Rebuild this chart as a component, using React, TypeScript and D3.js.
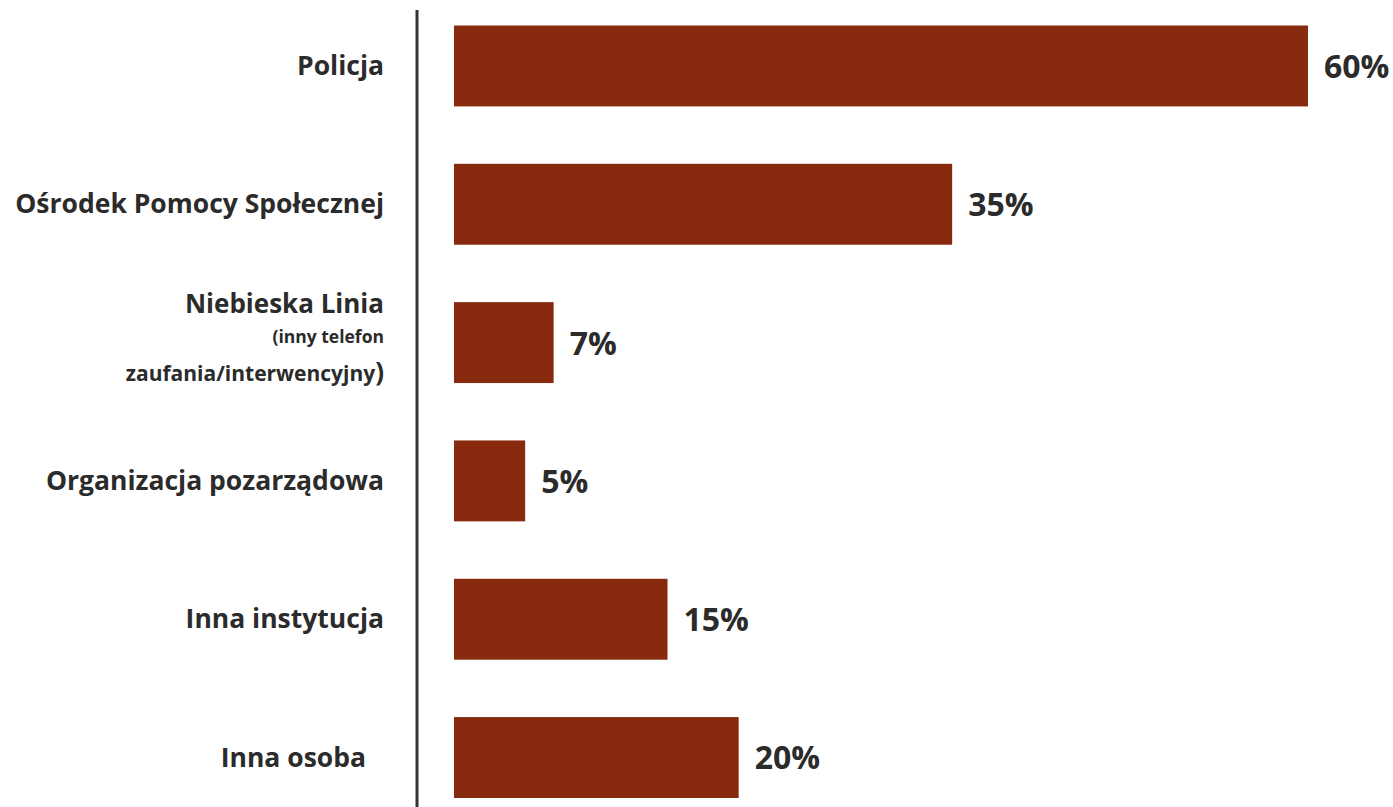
import React from "react";
import * as d3 from "d3";

const categories = [
  "Policja",
  "Ośrodek Pomocy Społecznej",
  "Niebieska Linia",
  "Organizacja pozarządowa",
  "Inna instytucja",
  "Inna osoba",
];
const values = [60, 35, 7, 5, 15, 20];
const valueLabels = ["60%", "35%", "7%", "5%", "15%", "20%"];

const W = 1393;
const H = 807;
const BAR = "#872A0D";
const TXT = "#2b2b2b";
const FONT = "'Open Sans', 'DejaVu Sans', sans-serif";
const LABEL_FS = 26.5;
const VALUE_FS = 32;

export default function App() {
  const x = d3.scaleLinear().domain([0, 60]).range([454, 1308]);
  const y = d3
    .scaleBand<string>()
    .domain(categories)
    .range([25.5, 798])
    .paddingInner(0.415)
    .paddingOuter(0);
  const bw = y.bandwidth();

  return (
    <svg
      width={W}
      height={H}
      style={{ position: "absolute", left: 0, top: 0, background: "#fff" }}
      fontFamily={FONT}
    >
      <line x1={417} x2={417} y1={10} y2={807} stroke="#333" strokeWidth={3} />
      {categories.map((c, i) => {
        const yc = (y(c) as number) + bw / 2;
        return (
          <g key={c}>
            <rect
              x={x(0)}
              y={y(c)}
              width={x(values[i]) - x(0)}
              height={bw}
              fill={BAR}
            />
            <text
              x={x(values[i]) + 16}
              y={yc + 0.5 + VALUE_FS * 0.357}
              fontSize={VALUE_FS}
              fontWeight={700}
              fill={TXT}
            >
              {valueLabels[i]}
            </text>
            {c === "Niebieska Linia" ? (
              <g fill={TXT} fontWeight={700} textAnchor="end">
                <text x={384} y={yc - 30} fontSize={26}>
                  {c}
                </text>
                <text x={384} y={yc} fontSize={17.5}>
                  (inny telefon
                </text>
                <text x={384} y={yc + 38} fontSize={21}>
                  zaufania/interwencyjny<tspan fontSize={26}>)</tspan>
                </text>
              </g>
            ) : (
              <text
                x={c === "Inna osoba" ? 366 : 384}
                y={yc - 0.5 + LABEL_FS * 0.357}
                textAnchor="end"
                fontSize={LABEL_FS}
                fontWeight={700}
                fill={TXT}
              >
                {c}
              </text>
            )}
          </g>
        );
      })}
    </svg>
  );
}
